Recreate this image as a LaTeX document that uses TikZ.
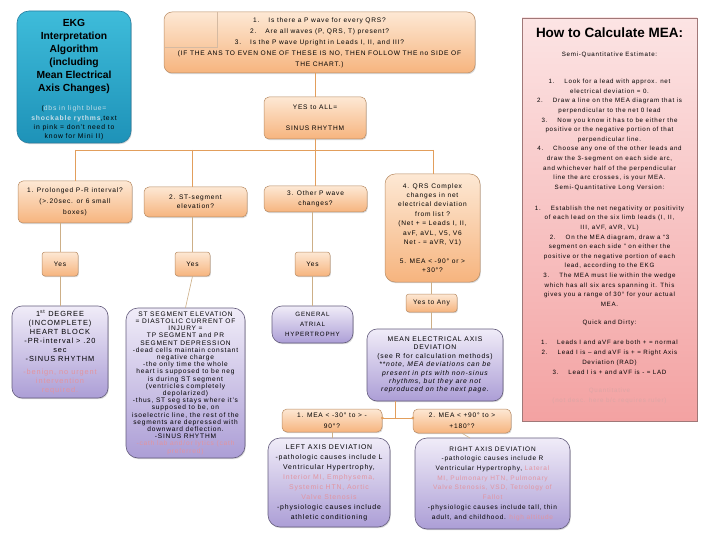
\documentclass[tikz,border=0pt]{standalone}
\usepackage{fontspec}
\setmainfont{Liberation Sans}[LetterSpace=12]
\newfontfamily\titlefont{Liberation Sans}[LetterSpace=0]
\usetikzlibrary{shadows}
\definecolor{otop}{RGB}{253,232,212}
\definecolor{obot}{RGB}{246,180,126}
\definecolor{obord}{RGB}{185,140,100}
\definecolor{ptop}{RGB}{240,236,248}
\definecolor{pbot}{RGB}{172,158,214}
\definecolor{pbord}{RGB}{100,92,125}
\definecolor{btop}{RGB}{62,188,218}
\definecolor{bbot}{RGB}{30,146,184}
\definecolor{bbord}{RGB}{40,125,160}
\definecolor{ktop}{RGB}{252,228,228}
\definecolor{kbot}{RGB}{243,162,162}
\definecolor{kbord}{RGB}{160,120,120}
\definecolor{conc}{RGB}{226,158,92}
\definecolor{lcon}{RGB}{205,175,135}
\definecolor{pk}{RGB}{226,148,160}
\definecolor{lb}{RGB}{200,222,232}
\definecolor{qt}{RGB}{222,165,165}
\newcommand{\fs}[2]{\fontsize{#1}{#2}\selectfont}
\begin{document}
\begin{tikzpicture}[x=1pt,y=-1pt,
  every node/.style={inner sep=1pt, align=center},
  shad/.style={drop shadow={shadow xshift=0.8pt, shadow yshift=-1.2pt, opacity=0.3}},
  obox/.style={draw=obord, line width=0.5pt, rounded corners=5pt, top color=otop, bottom color=obot, shad},
  pubox/.style={draw=pbord, line width=0.6pt, rounded corners=10pt, top color=ptop, bottom color=pbot, shad},
  bbox/.style={draw=bbord, line width=0.6pt, rounded corners=12pt, top color=btop, bottom color=bbot, shad},
  kbox/.style={draw=kbord, line width=0.6pt, top color=ktop, bottom color=kbot, shad},
  conn/.style={draw=conc, line width=0.9pt},
  lconn/.style={draw=lcon, line width=0.6pt},
  dot/.style={circle, fill=conc, inner sep=0pt, minimum size=3pt}
]
\fill[white] (0,0) rectangle (720,540);
\useasboundingbox (0,0) rectangle (720,540);

% Blue title box
\node[bbox, minimum width=114pt, minimum height=132pt] (blue) at (74,77) {};
\node[font=\titlefont\fs{10.3}{13}\bfseries] (title) at (74,56) {EKG\\ Interpretation\\ Algorithm\\ (including\\ Mean Electrical\\ Axis Changes)};
\node[font=\fs{6.8}{9.3}] (sub) at (74,123) {(\textcolor{lb}{dbs in light blue=}\\ \textcolor{lb}{\bfseries shockable rythms},text\\ in pink = don't need to\\ know for Mini II)};

% Top question box
\node[obox, rounded corners=8pt, minimum width=311pt, minimum height=61pt, font=\fs{6.6}{11}] (top) at (319.5,42.5)
 {1.\hspace{9pt}Is there a P wave for every QRS?\\
  2.\hspace{9pt}Are all waves (P, QRS, T) present?\\
  3.\hspace{9pt}Is the P wave Upright in Leads I, II, and III?\\
  (IF THE ANS TO EVEN ONE OF THESE IS NO, THEN FOLLOW THE no SIDE OF\\
  THE CHART.)};
\draw[obord!60, line width=0.4pt] (217,12.5) -- (217,47) -- (164.5,47);

\node[obox, minimum width=102pt, minimum height=42pt, font=\fs{6.6}{10.5}] (yesall) at (315,118) {YES to ALL=\\[10.5pt]SINUS RHYTHM};

% Question row
\node[obox, minimum width=114pt, minimum height=42pt, font=\fs{6.6}{11}] (q1) at (75,202) {1. Prolonged P-R interval?\\ (>.20sec. or 6 small\\ boxes)};
\node[obox, minimum width=103pt, minimum height=30pt, font=\fs{6.6}{9}] (q2) at (195.5,202) {2. ST-segment\\ elevation?};
\node[obox, minimum width=103pt, minimum height=26pt, font=\fs{6.6}{10}] (q3) at (315.5,199) {3. Other P wave\\ changes?};
\node[obox, rounded corners=10pt, minimum width=95pt, minimum height=108pt, font=\fs{6.6}{9.4}] (q4) at (432.5,228)
 {4. QRS Complex\\ changes in net\\ electrical deviation\\ from list ?\\ (Net + = Leads I, II,\\ avF, aVL, V5, V6\\ Net - = aVR, V1)\\[9.4pt] 5. MEA < -90° or >\\ +30°?};

% Yes boxes
\node[obox, rounded corners=3pt, minimum width=36pt, minimum height=24pt, font=\fs{6.6}{8}] (y1) at (60,264) {Yes};
\node[obox, rounded corners=3pt, minimum width=35pt, minimum height=24pt, font=\fs{6.6}{8}] (y2) at (192.5,264) {Yes};
\node[obox, rounded corners=3pt, minimum width=35pt, minimum height=24pt, font=\fs{6.6}{8}] (y3) at (312.5,264) {Yes};
\node[obox, rounded corners=3pt, minimum width=51pt, minimum height=18pt, font=\fs{6.6}{8}] (yany) at (431.5,303) {Yes to Any};

% Purple result boxes
\node[pubox, minimum width=96pt, minimum height=92pt, font=\fs{7.4}{9}] (deg) at (60,352)
 {1\textsuperscript{st} DEGREE\\ (INCOMPLETE)\\ HEART BLOCK\\ -PR-interval > .20\\ sec\\ -SINUS RHYTHM\\[4pt]
  \textcolor{pk}{-benign, no urgent}\\ \textcolor{pk}{intervention}\\ \textcolor{pk}{required.}};
\node[pubox, rounded corners=12pt, minimum width=119pt, minimum height=150pt, font=\fs{6.6}{7.2}] (st) at (185.5,383)
 {ST SEGMENT ELEVATION\\ = DIASTOLIC CURRENT OF\\ INJURY =\\ TP SEGMENT and PR\\ SEGMENT DEPRESSION\\
  -dead cells maintain constant\\ negative charge\\ -the only time the whole\\ heart is supposed to be neg\\
  is during ST segment\\ (ventricles completely\\ depolarized)\\ -thus, ST seg stays where it's\\
  supposed to be, on\\ isoelectric line, the rest of the\\ segments are depressed with\\ downward deflection.\\
  -SINUS RHYTHM\\ \textcolor{pk}{-cath lab and/or lytics (cath}\\ \textcolor{pk}{preferred)}};
\node[pubox, minimum width=81pt, minimum height=37pt, font=\fs{6.2}{10}] (gah) at (312.5,324.5) {GENERAL\\ ATRIAL\\ HYPERTROPHY};
\node[pubox, minimum width=136pt, minimum height=72pt, font=\fs{6.8}{8.4}] (mea) at (435,365)
 {MEAN ELECTRICAL AXIS\\ DEVIATION\\ (see R for calculation methods)\\ \itshape **note, MEA deviations can be\\
  \itshape present in pts with non-sinus\\ \itshape rhythms, but they are not\\ \itshape reproduced on the next page.};

\node[obox, minimum width=100pt, minimum height=23pt, font=\fs{6.6}{11}] (m1) at (332,420.5) {1. MEA < -30° to > -\\ 90°?};
\node[obox, minimum width=98pt, minimum height=24pt, font=\fs{6.6}{11}] (m2) at (462,421) {2. MEA < +90° to >\\ +180°?};

\node[pubox, rounded corners=12pt, minimum width=122pt, minimum height=89pt, font=\fs{6.9}{10}] (lad) at (329,482.5)
 {LEFT AXIS DEVIATION\\ -pathologic causes include L\\ Ventricular Hypertrophy,\\
  \textcolor{pk}{Interior MI, Emphysema,}\\ \textcolor{pk}{Systemic HTN, Aortic}\\ \textcolor{pk}{Valve Stenosis}\\
  -physiologic causes include\\ athletic conditioning};
\node[pubox, rounded corners=12pt, minimum width=155pt, minimum height=91pt, font=\fs{6.5}{9.7}] (rad) at (492.5,483.5)
 {RIGHT AXIS DEVIATION\\ -pathologic causes include R\\ Ventricular Hypertrophy, \textcolor{pk}{Lateral}\\
  \textcolor{pk}{MI, Pulmonary HTN, Pulmonary}\\ \textcolor{pk}{Valve Stenosis, VSD, Tetrology of}\\ \textcolor{pk}{Fallot}\\
  -physiologic causes include tall, thin\\ adult, and childhood. \textcolor{pk}{high altitude}};

% Pink explanation box
\node[kbox, minimum width=175pt, minimum height=403pt] (calc) at (609.5,219.5) {};
\node[font=\titlefont\fs{13.5}{15}\bfseries] (ctitle) at (609.5,33) {How to Calculate MEA:};
\node[font=\fs{6.2}{9.6}] (cs1) at (609.5,55) {Semi-Quantitative Estimate:};
\node[font=\fs{6.2}{9.6}] (cl1) at (609.5,130)
 {1.\hspace{10pt}Look for a lead with approx. net\\ electrical deviation = 0.\\
  2.\hspace{10pt}Draw a line on the MEA diagram that is\\ perpendicular to the net 0 lead\\
  3.\hspace{10pt}Now you know it has to be either the\\ positive or the negative portion of that\\ perpendicular line.\\
  4.\hspace{10pt}Choose any one of the other leads and\\ draw the 3-segment on each side arc,\\
  and whichever half of the perpendicular\\ line the arc crosses, is your MEA.};
\node[font=\fs{6.2}{9.6}] (cs2) at (609.5,188) {Semi-Quantitative Long Version:};
\node[font=\fs{6.2}{9.6}] (cl2) at (609.5,256)
 {1.\hspace{10pt}Establish the net negativity or positivity\\ of each lead on the six limb leads (I, II,\\ III, aVF, aVR, VL)\\
  2.\hspace{10pt}On the MEA diagram, draw a “3\\ segment on each side ” on either the\\ positive or the negative portion of each\\ lead, according to the EKG\\
  3.\hspace{10pt}The MEA must lie within the wedge\\ which has all six arcs spanning it. This\\ gives you a range of 30° for your actual\\ MEA.};
\node[font=\fs{6.2}{9.6}] (cs3) at (609.5,323) {Quick and Dirty:};
\node[font=\fs{6.2}{10}] (cl3) at (609.5,357)
 {1.\hspace{10pt}Leads I and aVF are both + = normal\\ 2.\hspace{10pt}Lead I is – and aVF is + = Right Axis\\ Deviation (RAD)\\
  3.\hspace{10pt}Lead I is + and aVF is - = LAD};
\node[font=\fs{6.2}{10}, text=qt] (cq) at (609.5,396) {Quantitative\\ (not desc. here b/c requires ruler)};

% Connectors
\coordinate (bl) at (75,150);
\coordinate (bm) at (192,150);
\coordinate (bc) at (315,150);
\coordinate (br) at (433,150);
\coordinate (jn) at (395,418);
\coordinate (radin) at (470,438);
\draw[conn] (yesall.north) -- (yesall.north |- top.south);
\draw[conn] (yesall.south) -- (bc);
\draw[conn] (bl) -- (br);
\draw[conn] (bl) -- (bl |- q1.north);
\draw[conn] (bm) -- (bm |- q2.north);
\draw[conn] (bc) -- (bc |- q3.north);
\draw[conn] (br) -- (br |- q4.north);
\draw[lconn] (y1.north) -- (y1.north |- q1.south);
\draw[lconn] (y1.south) -- (y1.south |- deg.north);
\draw[lconn] (y2.north) -- (y2.north |- q2.south);
\draw[lconn] (y2.south) -- (st.north);
\draw[lconn] (y3.north) -- (y3.north |- q3.south);
\draw[lconn] (y3.south) -- (y3.south |- gah.north);
\draw[lconn] (yany.north) -- (yany.north |- q4.south);
\draw[lconn] (yany.south) -- (yany.south |- mea.north);
\draw[conn] (jn |- mea.south) -- (jn);
\draw[conn] (jn -| m1.east) -- (jn -| m2.west);
\node[dot] (d1) at (jn -| m1.east) {};
\node[dot] (d2) at (jn -| m2.west) {};
\draw[lconn] (m1.south) -- (m1.south |- lad.north);
\draw[lconn] (m2.south) -- (radin);
\end{tikzpicture}
\end{document}
